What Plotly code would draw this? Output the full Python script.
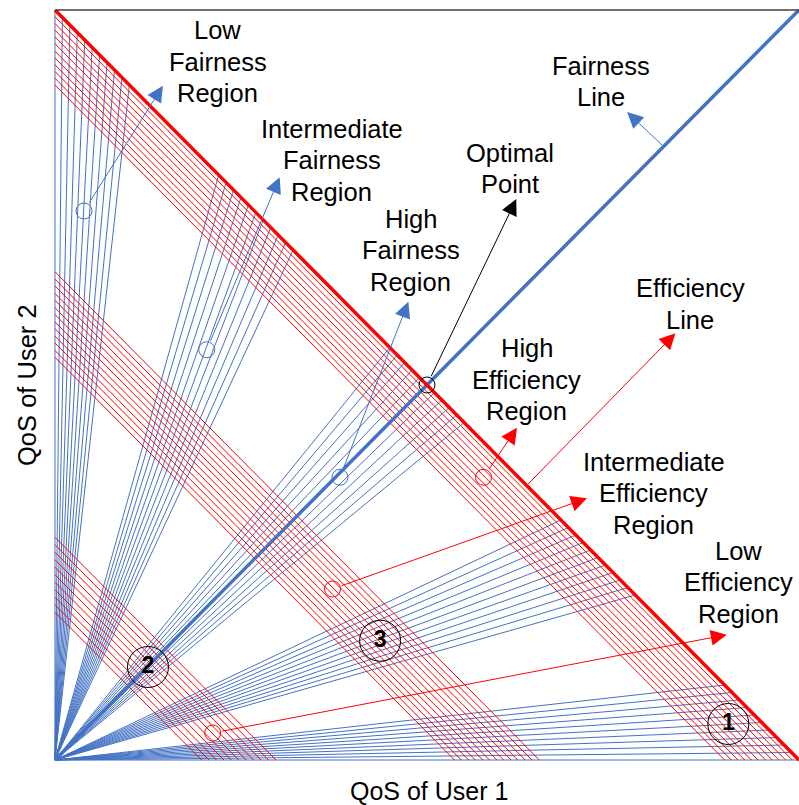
import plotly.graph_objects as go

BLUE = "#4472C4"
RED = "#FF0000"
FONT = "Liberation Sans, Arial, sans-serif"

# Blue rays: share of User 1 (x / (x + y)) at which each ray meets the efficiency line
fan_low_fair = [0.00, 0.01, 0.02, 0.03, 0.04, 0.05, 0.06, 0.07, 0.08, 0.09, 0.10]
fan_mid_fair = [0.22, 0.23, 0.24, 0.25, 0.26, 0.27, 0.28, 0.29, 0.30, 0.31, 0.32]
fan_high_fair = [0.45, 0.46, 0.47, 0.48, 0.49, 0.50, 0.51, 0.52, 0.53, 0.54, 0.55]
fan_mid_fair2 = [0.68, 0.69, 0.70, 0.71, 0.72, 0.73, 0.74, 0.75, 0.76, 0.77, 0.78]
fan_low_fair2 = [0.90, 0.91, 0.92, 0.93, 0.94, 0.95, 0.96, 0.97, 0.98, 0.99, 1.00]

# Red iso-efficiency lines: x + y = c
band_high_eff = [0.900, 0.909, 0.918, 0.927, 0.936, 0.945, 0.955, 0.964, 0.973, 0.982, 0.991]
band_mid_eff = [0.537, 0.546, 0.556, 0.565, 0.575, 0.584, 0.594, 0.603, 0.613, 0.622, 0.632, 0.641, 0.651]
band_low_eff = [0.197, 0.207, 0.217, 0.227, 0.237, 0.247, 0.257, 0.267, 0.277, 0.287, 0.297]

# Marked points
fair_pts_x = [0.039, 0.204, 0.383]
fair_pts_y = [0.732, 0.547, 0.377]
eff_pts_x = [0.576, 0.373, 0.212]
eff_pts_y = [0.377, 0.228, 0.036]
opt_x = [0.5]
opt_y = [0.5]
num_x = [0.905, 0.125, 0.437]
num_y = [0.048, 0.124, 0.159]
num_labels = ["1", "2", "3"]

# Labels (block centres)
label_texts = ["Low<br>Fairness<br>Region", "Intermediate<br>Fairness<br>Region",
               "High<br>Fairness<br>Region", "Optimal<br>Point", "Fairness<br>Line",
               "Efficiency<br>Line", "High<br>Efficiency<br>Region",
               "Intermediate<br>Efficiency<br>Region", "Low<br>Efficiency<br>Region"]
label_x = [0.219, 0.372, 0.478, 0.612, 0.734, 0.854, 0.634, 0.805, 0.919]
label_y = [0.931, 0.800, 0.680, 0.789, 0.905, 0.608, 0.507, 0.356, 0.237]

# Arrows: tail -> tip
arrow_tail_x = [0.039, 0.204, 0.383, 0.5, 0.818, 0.576, 0.634, 0.373, 0.212]
arrow_tail_y = [0.732, 0.547, 0.377, 0.5, 0.818, 0.377, 0.366, 0.228, 0.036]
arrow_tip_x = [0.145, 0.302, 0.475, 0.620, 0.769, 0.621, 0.834, 0.715, 0.903]
arrow_tip_y = [0.899, 0.777, 0.611, 0.748, 0.864, 0.443, 0.569, 0.349, 0.167]
arrow_colors = [BLUE, BLUE, BLUE, "black", BLUE, RED, RED, RED, RED]
arrow_start = [8, 8, 8, 8, 0, 8, 0, 8, 8]

fig = go.Figure()

# Blue rays
bx, by = [], []
for fan in [fan_low_fair, fan_mid_fair, fan_high_fair, fan_mid_fair2, fan_low_fair2]:
    for f in fan:
        bx += [0, f, None]
        by += [0, 1 - f, None]
fig.add_trace(go.Scatter(x=bx, y=by, mode="lines", line=dict(color=BLUE, width=1),
                         hoverinfo="skip"))

# Red lines
rx, ry = [], []
for band in [band_high_eff, band_mid_eff, band_low_eff]:
    for c in band:
        rx += [0, c, None]
        ry += [c, 0, None]
fig.add_trace(go.Scatter(x=rx, y=ry, mode="lines", line=dict(color=RED, width=1),
                         hoverinfo="skip"))

# Thick lines
fig.add_trace(go.Scatter(x=[0, 1], y=[0, 1], mode="lines", line=dict(color=BLUE, width=3.5)))
fig.add_trace(go.Scatter(x=[0, 1], y=[1, 0], mode="lines", line=dict(color=RED, width=3.5)))
# Top border
fig.add_trace(go.Scatter(x=[0, 1], y=[1, 1], mode="lines", line=dict(color="#404040", width=1.5)))

# Small circles
fig.add_trace(go.Scatter(x=fair_pts_x, y=fair_pts_y, mode="markers",
                         marker=dict(symbol="circle-open", size=16, color=BLUE, line=dict(width=1))))
fig.add_trace(go.Scatter(x=eff_pts_x, y=eff_pts_y, mode="markers",
                         marker=dict(symbol="circle-open", size=16, color=RED, line=dict(width=1))))
fig.add_trace(go.Scatter(x=opt_x, y=opt_y, mode="markers",
                         marker=dict(symbol="circle-open", size=16, color="black", line=dict(width=1))))
# Numbered circles
fig.add_trace(go.Scatter(x=num_x, y=num_y, mode="markers+text", text=["<b>%s</b>" % t for t in num_labels],
                         textposition="middle center",
                         textfont=dict(family="Arial, Liberation Sans, sans-serif", size=23, color="black"),
                         marker=dict(symbol="circle-open", size=41, color="black", line=dict(width=1))))

LINE_STEP = 0.042  # vertical spacing between text lines (data units)
annotations = []
for t, x, y in zip(label_texts, label_x, label_y):
    parts = t.split("<br>")
    n = len(parts)
    for i, p in enumerate(parts):
        yy = y + ((n - 1) / 2 - i) * LINE_STEP
        annotations.append(dict(x=x, y=yy, xref="x", yref="y", text=p, showarrow=False,
                                font=dict(family=FONT, size=25.5, color="black"),
                                xanchor="center", yanchor="middle", align="center"))
for tx, ty, hx, hy, col, ss in zip(arrow_tail_x, arrow_tail_y, arrow_tip_x, arrow_tip_y,
                                   arrow_colors, arrow_start):
    annotations.append(dict(x=hx, y=hy, ax=tx, ay=ty, xref="x", yref="y", axref="x", ayref="y",
                            text="", showarrow=True, arrowhead=2, arrowsize=3.2, arrowwidth=1,
                            arrowcolor=col, startstandoff=ss, standoff=0))
annotations.append(dict(x=0.505, y=-0.037, xref="paper", yref="paper", text="QoS of User 1",
                        showarrow=False, font=dict(family=FONT, size=25, color="black"),
                        xanchor="center", yanchor="middle"))
annotations.append(dict(x=-0.0335, y=0.5, xref="paper", yref="paper", text="QoS of User 2",
                        showarrow=False, textangle=-90, font=dict(family=FONT, size=25.5, color="black"),
                        xanchor="center", yanchor="middle"))

fig.update_layout(
    width=799, height=805,
    margin=dict(l=52, r=0, t=7, b=42),
    plot_bgcolor="white", paper_bgcolor="white",
    showlegend=False,
    hovermode=False,
    xaxis=dict(range=[-0.004, 1.0], visible=False),
    yaxis=dict(range=[-0.004, 1.004], visible=False),
    annotations=annotations,
)

fig.write_html("out.html", config={"displayModeBar": False},
               post_script="document.body.style.margin='0';document.body.style.overflow='hidden';")
